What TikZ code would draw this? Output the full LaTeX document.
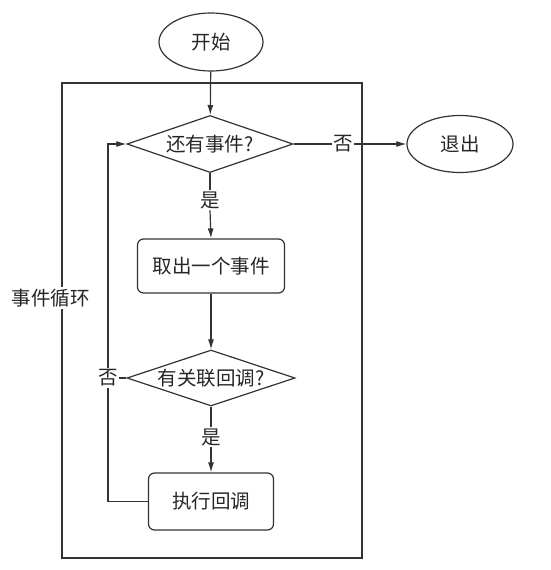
\documentclass[tikz,border=0pt]{standalone}
\usepackage{fontspec}
\newfontfamily\cjk{Noto Sans CJK SC}
\usetikzlibrary{shapes.geometric,arrows.meta}
\tikzset{
  every node/.style={font=\cjk\fontsize{19.5}{22}\selectfont, text=black!85},
  ln/.style={draw=black!80, line width=1.2pt},
  arr/.style={ln, -{Latex[length=10pt,width=6pt]}},
  term/.style={ellipse, ln, inner sep=0pt, minimum width=104pt, minimum height=58pt},
  dec/.style={diamond, ln, inner sep=0pt, aspect=2.9},
  proc/.style={rectangle, rounded corners=6pt, ln, inner sep=0pt},
  lbl/.style={fill=white, inner sep=1.5pt},
}
\begin{document}
\begin{tikzpicture}[x=1pt,y=-1pt]
\useasboundingbox (0,0) rectangle (550,570);
% loop frame
\node[ln, rectangle, inner sep=0pt, minimum width=300pt, minimum height=475pt] (frame) at (212,320.5) {};
\node[lbl] (looplbl) at (51,298) {事件循环};
% nodes
\node[term] (start) at (211,42) {开始};
\node[dec, minimum width=166pt, minimum height=57pt] (d1) at (210,144) {还有事件?};
\node[term, minimum width=106pt, minimum height=57pt] (exit) at (460,144) {退出};
\node[proc, minimum width=147pt, minimum height=54pt] (take) at (211,266) {取出一个事件};
\node[dec, minimum width=168pt, minimum height=56pt] (d2) at (211,378) {有关联回调?};
\node[proc, minimum width=125pt, minimum height=57pt] (exec) at (211,501.5) {执行回调};
% connectors
\draw[arr] (start) -- (d1);
\node[lbl] (no1) at (343,144) {否};
\draw[ln] (d1.east) -- (no1.west);
\draw[arr] (no1.east) -- (exit.west);
\node[lbl] (yes1) at (210,200) {是};
\draw[ln] (d1.south) -- (yes1.north);
\draw[arr] (yes1.south) -- (take.north);
\draw[arr] (take.south) -- (d2.north);
\node[lbl] (yes2) at (211,437) {是};
\draw[ln] (d2.south) -- (yes2.north);
\draw[arr] (yes2.south) -- (exec.north);
\coordinate (lc) at (108,144);
\draw[arr] (exec.west) -| (lc) -- (d1.west);
\node[lbl] (no2) at (108,378) {否};
\draw[ln] (d2.west) -- (no2.east);
\end{tikzpicture}
\end{document}
